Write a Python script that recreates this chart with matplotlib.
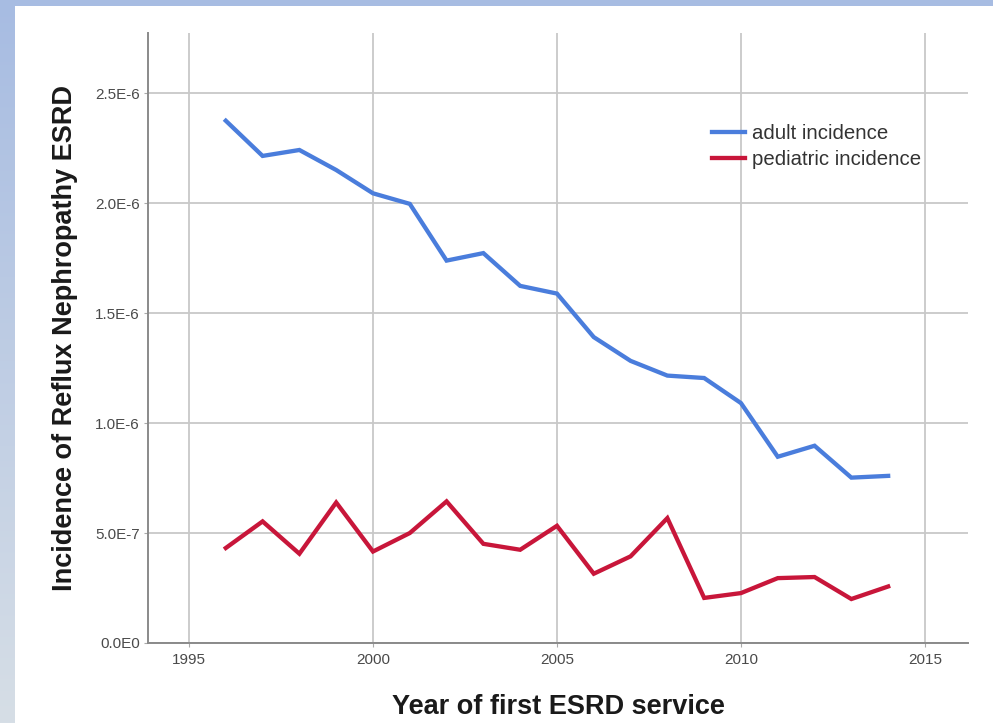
import numpy as np
import matplotlib
matplotlib.use("Agg")
import matplotlib.pyplot as plt
from matplotlib.ticker import FixedLocator, FixedFormatter

years = [1996, 1997, 1998, 1999, 2000, 2001, 2002, 2003, 2004, 2005,
         2006, 2007, 2008, 2009, 2010, 2011, 2012, 2013, 2014]
adult_incidence = [2.375e-6, 2.215e-6, 2.242e-6, 2.151e-6, 2.045e-6, 1.997e-6,
                   1.739e-6, 1.773e-6, 1.624e-6, 1.589e-6, 1.391e-6, 1.283e-6,
                   1.216e-6, 1.205e-6, 1.091e-6, 0.847e-6, 0.897e-6, 0.752e-6,
                   0.760e-6]
pediatric_incidence = [0.432e-6, 0.553e-6, 0.406e-6, 0.639e-6, 0.416e-6, 0.500e-6,
                       0.644e-6, 0.451e-6, 0.424e-6, 0.533e-6, 0.315e-6, 0.394e-6,
                       0.568e-6, 0.205e-6, 0.227e-6, 0.295e-6, 0.300e-6, 0.200e-6,
                       0.257e-6]
x_ticks = [1995, 2000, 2005, 2010, 2015]
y_ticks = [0.0, 0.5e-6, 1.0e-6, 1.5e-6, 2.0e-6, 2.5e-6]
y_tick_labels = ["0.0E0", "5.0E-7", "1.0E-6", "1.5E-6", "2.0E-6", "2.5E-6"]

plt.rcParams['font.family'] = ['Liberation Sans', 'DejaVu Sans']

W, H = 993, 723
fig = plt.figure(figsize=(W / 100, H / 100), dpi=100)
fig.patch.set_facecolor("white")

# slide-style frame: gradient strip on the left, flat band on top
strip = fig.add_axes([0, 0, 15 / W, 1])
grad = np.linspace(0, 1, 256).reshape(-1, 1)
top_c = np.array([0xa7, 0xbc, 0xe2]) / 255
bot_c = np.array([0xd6, 0xde, 0xe6]) / 255
img = top_c[None, None, :] * (1 - grad[..., None]) + bot_c[None, None, :] * grad[..., None]
strip.imshow(img, aspect="auto", extent=[0, 1, 0, 1], origin="upper")
strip.set_axis_off()
fig.patches.append(plt.Rectangle((0, 1 - 6 / H), 1, 6 / H, transform=fig.transFigure,
                                 facecolor="#a7bce2", edgecolor="none", zorder=5))

ax = fig.add_axes([148 / W, (H - 643) / H, (968 - 148) / W, (643 - 33) / H])
ax.plot(years, adult_incidence, color="#4a7ddc", lw=3.1, label="adult incidence",
        solid_joinstyle="miter", zorder=3)
ax.plot(years, pediatric_incidence, color="#c8163a", lw=3.1, label="pediatric incidence",
        solid_joinstyle="miter", zorder=3)

ax.set_xlim(1993.886, 2016.17)
ax.set_ylim(0, 2.774e-6)
ax.xaxis.set_major_locator(FixedLocator(x_ticks))
ax.yaxis.set_major_locator(FixedLocator(y_ticks))
ax.yaxis.set_major_formatter(FixedFormatter(y_tick_labels))

ax.grid(True, color="#c8c8c8", lw=1.3, zorder=0)
for s in ["top", "right"]:
    ax.spines[s].set_visible(False)
for s in ["left", "bottom"]:
    ax.spines[s].set_color("#8a8a8a")
    ax.spines[s].set_linewidth(1.4)
ax.tick_params(axis="both", length=3, color="#aaaaaa", labelsize=11, labelcolor="#4a4a4a")
ax.tick_params(axis="x", pad=4)
ax.tick_params(axis="y", pad=3)

ax.set_xlabel("Year of first ESRD service", fontsize=19.5, fontweight="bold",
              color="#1a1a1a", labelpad=20)
ax.set_ylabel("Incidence of Reflux Nephropathy ESRD", fontsize=19.5, fontweight="bold",
              color="#1a1a1a", labelpad=12)

leg = ax.legend(loc="upper left", bbox_to_anchor=((712 - 148) / (968 - 148), (643 - 124) / 610),
                frameon=False, fontsize=14.7, handlelength=1.6, handletextpad=0.35,
                labelspacing=0.35, borderaxespad=0, borderpad=0)
for t in leg.get_texts():
    t.set_color("#333333")

fig.savefig("out.png", dpi=100)
